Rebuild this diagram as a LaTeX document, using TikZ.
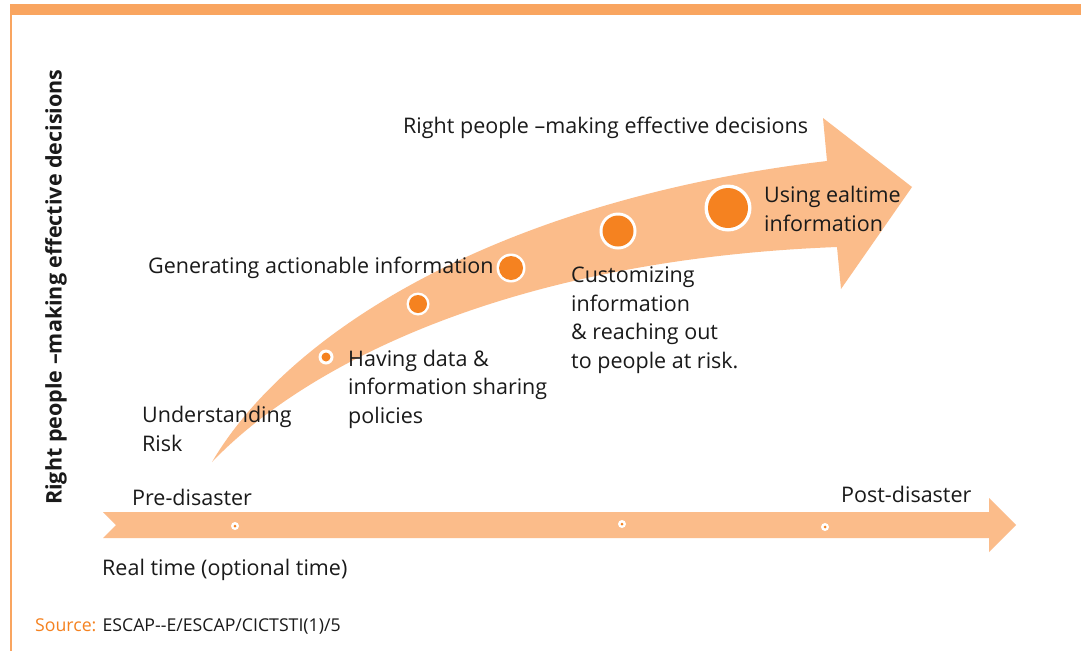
\documentclass[tikz,border=0pt]{standalone}
\usepackage{fontspec}
\setmainfont{Open Sans}
\definecolor{arrowfill}{RGB}{251,188,138}
\definecolor{dotor}{RGB}{245,130,32}
\definecolor{baror}{RGB}{249,165,96}
\definecolor{txt}{RGB}{26,26,26}
\begin{document}
\begin{tikzpicture}[x=1pt,y=-1pt,
  lbl/.style={anchor=west,inner sep=0pt,yshift=-2pt,text=txt,font=\fontsize{21.5}{28.5}\selectfont,align=left},
  dotring/.style={circle,fill=white,inner sep=0pt},
  dotcore/.style={circle,fill=dotor,inner sep=0pt}]
\useasboundingbox (0,0) rectangle (1081,651);
\fill[white] (0,0) rectangle (1081,651);
% frame
\fill[baror] (10,4) rectangle (1081,15);
\draw[baror,line width=1.5pt] (11,15) -- (11,651);
% curved arrow
\fill[arrowfill] (212,462) .. controls (290,330) and (500,200) .. (827,161)
  -- (823,118) -- (912,187) -- (841,289) -- (837,247)
  .. controls (500,260) and (300,370) .. (212,462) -- cycle;
% bottom arrow
\fill[arrowfill] (103,512) -- (989,512) -- (989,498) -- (1016,525) -- (989,552) -- (989,538) -- (103,538) -- (116,525) -- cycle;
% circles on curved arrow
\node[dotring,minimum size=15pt] (c1) at (326,357) {};
\node[dotcore,minimum size=9pt] at (c1) {};
\node[dotring,minimum size=23pt] (c2) at (418,304) {};
\node[dotcore,minimum size=18pt] at (c2) {};
\node[dotring,minimum size=29pt] (c3) at (511,268) {};
\node[dotcore,minimum size=24pt] at (c3) {};
\node[dotring,minimum size=37pt] (c4) at (618,231) {};
\node[dotcore,minimum size=31pt] at (c4) {};
\node[dotring,minimum size=47pt] (c5) at (728,208) {};
\node[dotcore,minimum size=40pt] at (c5) {};
% small dots on bottom arrow
\node[dotring,minimum size=8pt] (d1) at (235,526) {};
\node[dotcore,minimum size=3pt] at (d1) {};
\node[dotring,minimum size=8pt] (d2) at (622,524) {};
\node[dotcore,minimum size=3pt] at (d2) {};
\node[dotring,minimum size=8pt] (d3) at (825,527) {};
\node[dotcore,minimum size=3pt] at (d3) {};
% labels
\node[lbl] (t1) at (403,126) {Right people –making effective decisions};
\node[lbl] (t2) at (148,266) {Generating actionable information};
\node[lbl] (t3) at (348,387) {Having data \&\\information sharing\\policies};
\node[lbl] (t4) at (142,427) {Understanding\\Risk};
\node[lbl] (t5) at (571,318) {Customizing\\information\\\& reaching out\\to people at risk.};
\node[lbl] (t6) at (764,207) {Using ealtime\\information};
\node[lbl] (t7) at (132,495) {Pre-disaster};
\node[lbl] (t8) at (841,492) {Post-disaster};
\node[lbl] (t9) at (102,568) {Real time (optional time)};
\node[anchor=west,inner sep=0pt,yshift=-1pt,font=\fontsize{17.7}{20}\selectfont] (src) at (35,625) {\textcolor{dotor}{Source:} \textcolor{txt}{ESCAP{-}{-}E/ESCAP/CICTSTI(1)/5}};
\node[rotate=90,anchor=west,inner sep=0pt,text=txt,font=\bfseries\fontsize{21.5}{24}\selectfont] (vt) at (56,505) {Right people –making effective decisions};
\end{tikzpicture}
\end{document}
